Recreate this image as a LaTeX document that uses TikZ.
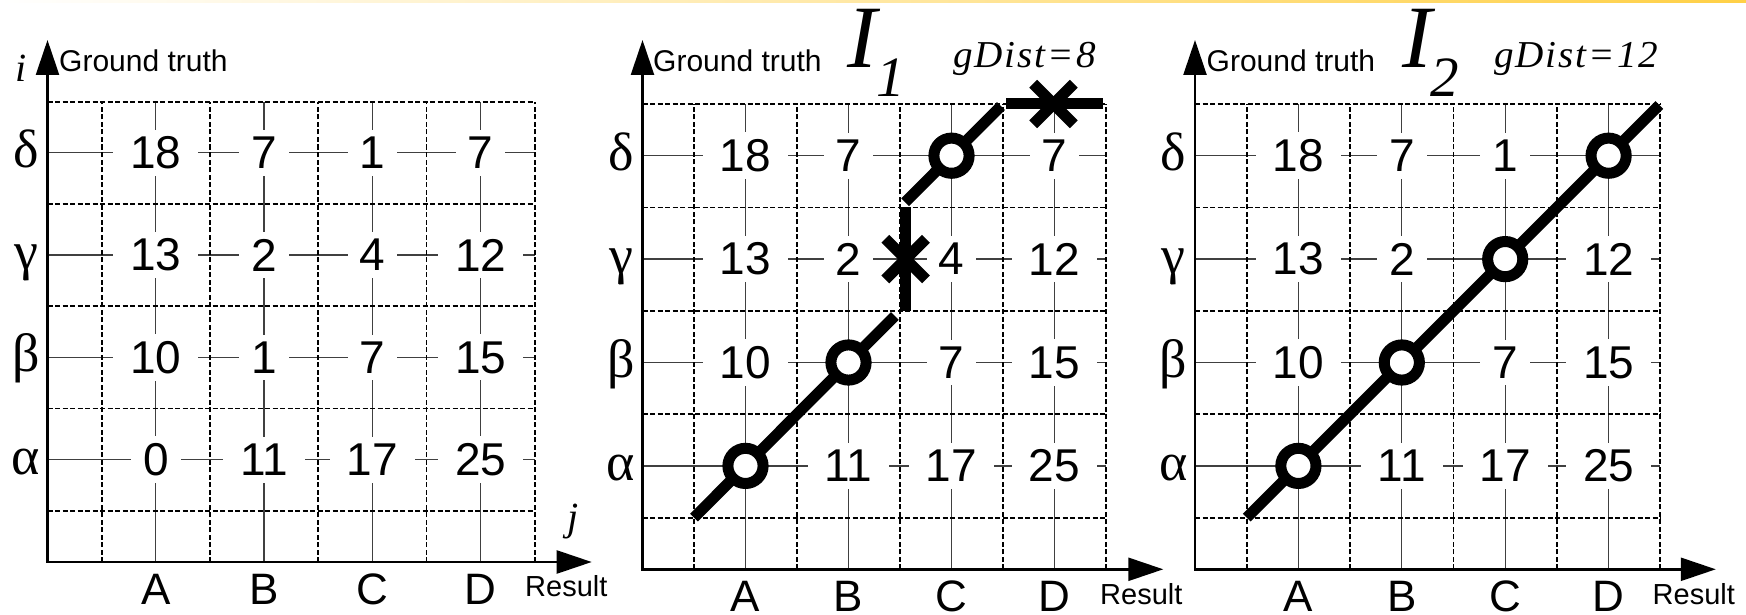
\documentclass[tikz,border=0pt]{standalone}
\usepackage{fontspec}
\setmainfont{Liberation Serif}
\newfontfamily\arialf{Liberation Sans}
\newfontfamily\serif{Liberation Serif}
\newfontfamily\spserif[LetterSpace=5]{Liberation Serif}
\usetikzlibrary{arrows.meta}

\tikzset{
  thinline/.style={line width=1.3pt, draw=black!75},
  dashline/.style={line width=1.8pt, dash pattern=on 5pt off 2.5pt},
  axisline/.style={line width=2.4pt, line join=miter, {Triangle[length=35pt,width=23pt]}-{Triangle[length=35pt,width=23pt]}},
  num/.style={font=\arialf\fontsize{46pt}{46pt}\selectfont, fill=white, inner xsep=12pt, inner ysep=7pt},
  numw/.style={num, inner xsep=17pt},
  collabel/.style={font=\arialf\fontsize{44pt}{44pt}\selectfont, inner sep=0pt, yshift=-27pt},
  greek/.style={font=\serif\fontsize{54pt}{54pt}\selectfont, anchor=base, inner sep=0pt, xshift=-21.5pt, yshift=-14.5pt},
  gt/.style={font=\arialf\fontsize{30pt}{30pt}\selectfont, anchor=base west, inner sep=0pt},
  res/.style={font=\arialf\fontsize{29pt}{29pt}\selectfont, anchor=base west, inner sep=0pt},
  axislabel/.style={font=\serif\itshape\fontsize{40pt}{40pt}\selectfont, anchor=base, inner sep=0pt},
  bigI/.style={font=\serif\itshape\fontsize{89pt}{89pt}\selectfont, anchor=base west, inner sep=0pt},
  subI/.style={font=\serif\itshape\fontsize{57pt}{57pt}\selectfont, anchor=base west, inner sep=0pt},
  gdist/.style={font=\spserif\itshape\fontsize{38pt}{38pt}\selectfont, anchor=base west, inner sep=0pt, xscale=1.03},
  pathline/.style={line width=11pt, line cap=butt},
  xline/.style={line width=11pt, line cap=butt},
  ring/.style={circle, draw, line width=11pt, fill=white, minimum size=35.2pt, inner sep=0pt},
}

\newcommand\mygrid{%
  \foreach \k in {1,...,4} {
    \draw[thinline] (\k,0) -- (\k,4.5);
    \draw[thinline] (0,\k) -- (4.5,\k);
  }%
}
\newcommand\mydashes{%
  \foreach \k in {0.5,1.5,2.5,3.5,4.5} {
    \draw[dashline] (\k,0) -- (\k,4.5);
    \draw[dashline] (0,\k) -- (4.5,\k);
  }%
}
\newcommand\nm[5]{\node[#5] (n#1#2#3) at (#2,#3) {#4};}
\newcommand\rowcol[1]{%
  \node[greek] (#1al) at (0,1) {α};
  \node[greek] (#1be) at (0,2) {β};
  \node[greek] (#1ga) at (0,3) {γ};
  \node[greek] (#1de) at (0,4) {δ};
  \node[collabel] (#1A) at (1,0) {A};
  \node[collabel] (#1B) at (2,0) {B};
  \node[collabel] (#1C) at (3,0) {C};
  \node[collabel] (#1D) at (4,0) {D};
}
\newcommand\xmark[2]{%
  \draw[xline, shift={(#1)}] (-20.3pt,-20.3pt) -- (20.3pt,20.3pt);
  \draw[xline, shift={(#1)}] (-20.3pt,20.3pt) -- (20.3pt,-20.3pt);
  \coordinate (#2) at (#1);
}

\begin{document}
\begin{tikzpicture}
\useasboundingbox (0,0) rectangle (1746pt,-615pt);
\fill[white] (0,0) rectangle (1746pt,-615pt);
\shade[left color=white, right color={rgb,255:red,255;green,208;blue,70}] (0,0) rectangle (1746pt,-2.2pt);

% ---------------- Panel 1 ----------------
\begin{scope}[shift={(47.5pt,-562pt)}, x=108.3pt, y=102.3pt]
  \mygrid
  \nm{a}{1}{4}{18}{numw} \nm{a}{2}{4}{7}{num} \nm{a}{3}{4}{1}{num} \nm{a}{4}{4}{7}{num}
  \nm{a}{1}{3}{13}{numw} \nm{a}{2}{3}{2}{num} \nm{a}{3}{3}{4}{num} \nm{a}{4}{3}{12}{numw}
  \nm{a}{1}{2}{10}{numw} \nm{a}{2}{2}{1}{num} \nm{a}{3}{2}{7}{num} \nm{a}{4}{2}{15}{numw}
  \nm{a}{1}{1}{0}{num} \nm{a}{2}{1}{11}{numw} \nm{a}{3}{1}{17}{numw} \nm{a}{4}{1}{25}{numw}
  \mydashes
  \coordinate (a0) at (0,0);
  \coordinate (ay) at (0pt,522pt);
  \coordinate (ax) at (544.2pt,0pt);
  \draw[axisline] (ay) -- (a0) -- (ax);
  \rowcol{a}
  \node[axislabel] (ai) at (-26.5pt,480.6pt) {i};
  \node[axislabel] (aj) at (525.5pt,31.3pt) {j};
  \node[gt] (agt) at (11.5pt,490pt) {Ground truth};
  \node[res] (ares) at (477.5pt,-34.7pt) {Result};
\end{scope}

% ---------------- Panel 2 ----------------
\begin{scope}[shift={(642.5pt,-569.3pt)}, x=103pt, y=103.4pt]
  \mygrid
  \nm{b}{1}{4}{18}{numw} \nm{b}{2}{4}{7}{num} \nm{b}{4}{4}{7}{num}
  \nm{b}{1}{3}{13}{numw} \nm{b}{2}{3}{2}{num} \nm{b}{3}{3}{4}{num} \nm{b}{4}{3}{12}{numw}
  \nm{b}{1}{2}{10}{numw} \nm{b}{3}{2}{7}{num} \nm{b}{4}{2}{15}{numw}
  \nm{b}{2}{1}{11}{numw} \nm{b}{3}{1}{17}{numw} \nm{b}{4}{1}{25}{numw}
  \mydashes
  \coordinate (b0) at (0,0);
  \coordinate (by) at (0pt,529.3pt);
  \coordinate (bx) at (520.8pt,0pt);
  \draw[axisline] (by) -- (b0) -- (bx);
  \rowcol{b}
  \node[gt] (bgt) at (10.5pt,497.3pt) {Ground truth};
  \node[res] (bres) at (457.5pt,-34.7pt) {Result};
  % warping path
  \coordinate (q0) at (0.5,0.5);
  \coordinate (q1) at (2.45,2.45);
  \coordinate (q2) at (2.555,2.5);
  \coordinate (q3) at (2.555,3.5);
  \coordinate (q4) at (2.55,3.55);
  \coordinate (q5) at (3.48,4.48);
  \coordinate (q6) at (3.53,4.5);
  \coordinate (q7) at (4.47,4.5);
  \draw[pathline] (q0) -- (q1);
  \draw[pathline] (q2) -- (q3);
  \draw[pathline] (q4) -- (q5);
  \draw[pathline] (q6) -- (q7);
  \node[ring] (b11) at (1,1) {};
  \node[ring] (b22) at (2,2) {};
  \node[ring] (b34) at (3,4) {};
  \xmark{2.555,3}{bx1}
  \xmark{3.99,4.5}{bx2}
\end{scope}

% ---------------- Panel 3 ----------------
\begin{scope}[shift={(1195pt,-569.3pt)}, x=103.4pt, y=103.4pt]
  \mygrid
  \nm{c}{1}{4}{18}{numw} \nm{c}{2}{4}{7}{num} \nm{c}{3}{4}{1}{num}
  \nm{c}{1}{3}{13}{numw} \nm{c}{2}{3}{2}{num} \nm{c}{4}{3}{12}{numw}
  \nm{c}{1}{2}{10}{numw} \nm{c}{3}{2}{7}{num} \nm{c}{4}{2}{15}{numw}
  \nm{c}{2}{1}{11}{numw} \nm{c}{3}{1}{17}{numw} \nm{c}{4}{1}{25}{numw}
  \mydashes
  \coordinate (c0) at (0,0);
  \coordinate (cy) at (0pt,529.3pt);
  \coordinate (cx) at (520.8pt,0pt);
  \draw[axisline] (cy) -- (c0) -- (cx);
  \rowcol{c}
  \node[gt] (cgt) at (11.5pt,497.3pt) {Ground truth};
  \node[res] (cres) at (457.5pt,-34.7pt) {Result};
  \coordinate (s0) at (0.5,0.5);
  \coordinate (s1) at (4.49,4.49);
  \draw[pathline] (s0) -- (s1);
  \node[ring] (c11) at (1,1) {};
  \node[ring] (c22) at (2,2) {};
  \node[ring] (c33) at (3,3) {};
  \node[ring] (c44) at (4,4) {};
\end{scope}

% ---------------- Titles ----------------
\node[bigI] (I1) at (847pt,-68pt) {I};
\node[subI] (I1s) at (876pt,-96.7pt) {1};
\node[gdist] (g1) at (953pt,-67.5pt) {gDist=8};
\node[bigI] (I2) at (1402pt,-68pt) {I};
\node[subI] (I2s) at (1430pt,-97pt) {2};
\node[gdist] (g2) at (1494pt,-67.5pt) {gDist=12};
\end{tikzpicture}
\end{document}
